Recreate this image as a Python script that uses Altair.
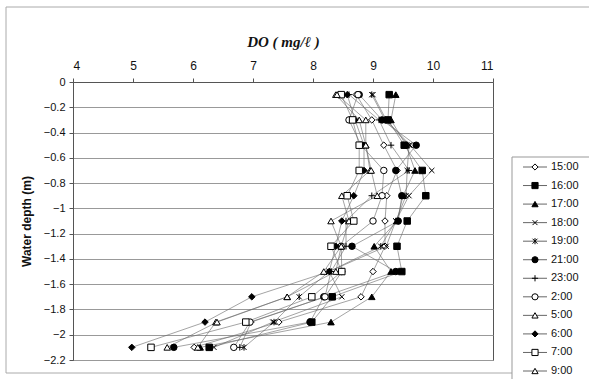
import altair as alt
import pandas as pd

# ---------------- data ----------------
depths = [-0.1, -0.3, -0.5, -0.7, -0.9, -1.1, -1.3, -1.5, -1.7, -1.9, -2.1]
series_names = ["15:00", "16:00", "17:00", "18:00", "19:00", "21:00",
                "23:00", "2:00", "5:00", "6:00", "7:00", "9:00"]

do_1500 = [8.72, 8.98, 9.18, 9.40, 9.23, 9.20, 9.20, 9.00, 8.80, 7.43, 6.02]
do_1600 = [9.27, 9.25, 9.52, 9.82, 9.88, 9.57, 9.40, 9.48, 8.32, 7.98, 6.27]
do_1700 = [9.38, 9.30, 9.55, 9.70, 9.50, 9.40, 9.02, 9.30, 8.98, 8.30, 6.12]
do_1800 = [9.00, 9.22, 9.62, 9.98, 9.60, 9.38, 9.22, 8.27, 8.48, 7.33, 6.35]
do_1900 = [8.98, 9.20, 9.60, 9.57, 9.55, 9.38, 9.13, 8.27, 7.77, 7.35, 6.85]
do_2100 = [8.77, 9.15, 9.72, 9.38, 9.48, 9.42, 8.65, 9.38, 8.18, 7.95, 5.68]
do_2300 = [8.60, 9.10, 9.30, 9.60, 8.98, 8.55, 8.55, 8.30, 8.20, 6.97, 6.78]
do_0200 = [8.75, 8.60, 8.80, 9.18, 9.15, 9.00, 8.47, 8.48, 8.20, 6.95, 6.68]
do_0500 = [8.38, 8.77, 8.88, 8.95, 8.48, 8.60, 8.47, 8.18, 7.57, 6.38, 6.08]
do_0600 = [8.57, 8.70, 8.85, 8.85, 8.68, 8.48, 8.38, 8.27, 6.98, 6.20, 4.98]
do_0700 = [8.47, 8.66, 8.77, 8.77, 8.57, 8.68, 8.30, 8.48, 7.98, 6.88, 5.30]
do_0900 = [8.40, 8.88, 8.88, 8.97, 9.07, 8.30, 8.47, 8.38, 7.57, 6.40, 5.57]

series_values = [do_1500, do_1600, do_1700, do_1800, do_1900, do_2100,
                 do_2300, do_0200, do_0500, do_0600, do_0700, do_0900]

x_ticks = [4, 5, 6, 7, 8, 9, 10, 11]
y_ticks = [0, -0.2, -0.4, -0.6, -0.8, -1.0, -1.2, -1.4, -1.6, -1.8, -2.0, -2.2]

# ---------------- styles ----------------
X_PATH = "M-0.8,-0.8L0.8,0.8M-0.8,0.8L0.8,-0.8"
STAR_PATH = "M-0.8,-0.8L0.8,0.8M-0.8,0.8L0.8,-0.8M0,-1L0,1"
PLUS_PATH = "M-1,0L1,0M0,-1L0,1"
shapes = ["diamond", "square", "triangle-up", X_PATH, STAR_PATH, "circle",
          PLUS_PATH, "circle", "triangle-up", "diamond", "square", "triangle-up"]
fills = ["white", "black", "black", "white", "white", "black",
         "white", "white", "white", "black", "white", "white"]

rows = []
for name, vals in zip(series_names, series_values):
    for i, (d, v) in enumerate(zip(depths, vals)):
        rows.append({"series": name, "depth": d, "do": v, "idx": i})
df = pd.DataFrame(rows)
leg_df = pd.DataFrame({"series": series_names})
one = pd.DataFrame({"a": [0]})

shape_scale = alt.Scale(domain=series_names, range=shapes)
fill_scale = alt.Scale(domain=series_names, range=fills)
x_scale = alt.Scale(domain=[4, 11], nice=False, zero=False)
y_scale = alt.Scale(domain=[-2.2, 0], nice=False, zero=False)

x_enc = alt.X("do:Q", scale=x_scale,
              axis=alt.Axis(orient="top", values=x_ticks, title="DO ( mg/ℓ )",
                            grid=False, tickSize=4, labelPadding=6,
                            titlePadding=10, labelFontSize=12,
                            labelFont="Liberation Sans", labelColor="#111",
                            titleFont="Liberation Serif", titleFontSize=15,
                            titleFontStyle="italic", titleFontWeight="bold",
                            titleColor="#111", domainColor="#555",
                            tickColor="#555"))
y_enc = alt.Y("depth:Q", scale=y_scale,
              axis=alt.Axis(values=y_ticks, format=".1~f", title="Water depth (m)",
                            grid=True, gridColor="#999", gridWidth=1,
                            tickSize=4, labelFontSize=11, labelPadding=4,
                            labelFont="Liberation Sans", labelColor="#111",
                            titleFont="Liberation Sans", titleFontSize=12,
                            titleFontWeight="bold", titleColor="#111",
                            titlePadding=10, domainColor="#555",
                            tickColor="#555"))

lines = alt.Chart(df).mark_line(color="#666", strokeWidth=0.6).encode(
    x=x_enc, y=y_enc, detail="series:N", order="idx:Q")

points = alt.Chart(df).mark_point(filled=False, size=42, stroke="black",
                                  strokeWidth=1, opacity=1).encode(
    x=x_enc,
    y=alt.Y("depth:Q", scale=y_scale, axis=None),
    shape=alt.Shape("series:N", scale=shape_scale, legend=None),
    fill=alt.Fill("series:N", scale=fill_scale, legend=None))

frame = alt.Chart(one).mark_rect(fill="white", fillOpacity=0, stroke="#aaa",
                                 strokeWidth=1).encode(
    x=alt.value(-67), x2=alt.value(530), y=alt.value(-75), y2=alt.value(291))

leg_y = alt.Y("series:N", sort=series_names,
              scale=alt.Scale(type="point", range=[85, 289], padding=0), axis=None)

leg_box = alt.Chart(one).mark_rect(fill="white", stroke="#999", strokeWidth=1).encode(
    x=alt.value(439), x2=alt.value(530), y=alt.value(75), y2=alt.value(320))

leg_lines = alt.Chart(leg_df).mark_rule(color="#666", strokeWidth=1).encode(
    x=alt.value(450), x2=alt.value(474), y=leg_y)

leg_points = alt.Chart(leg_df).mark_point(filled=False, size=38, stroke="black",
                                          strokeWidth=1, opacity=1).encode(
    x=alt.value(462), y=leg_y,
    shape=alt.Shape("series:N", scale=shape_scale, legend=None),
    fill=alt.Fill("series:N", scale=fill_scale, legend=None))

leg_text = alt.Chart(leg_df).mark_text(align="left", baseline="middle",
                                       font="Liberation Sans", fontSize=11,
                                       color="#111").encode(
    x=alt.value(478), y=leg_y, text="series:N")

chart = alt.layer(lines, points, frame, leg_box, leg_lines, leg_points, leg_text
                  ).resolve_scale(y="independent").properties(
    width=420, height=278,
    padding={"left": 73, "top": 82, "right": 96, "bottom": 19},
    autosize=alt.AutoSizeParams(type="none"),
    background="white",
).configure_view(stroke="#555", strokeWidth=1)

chart.save("out.html", embed_options={"renderer": "svg", "actions": False})
